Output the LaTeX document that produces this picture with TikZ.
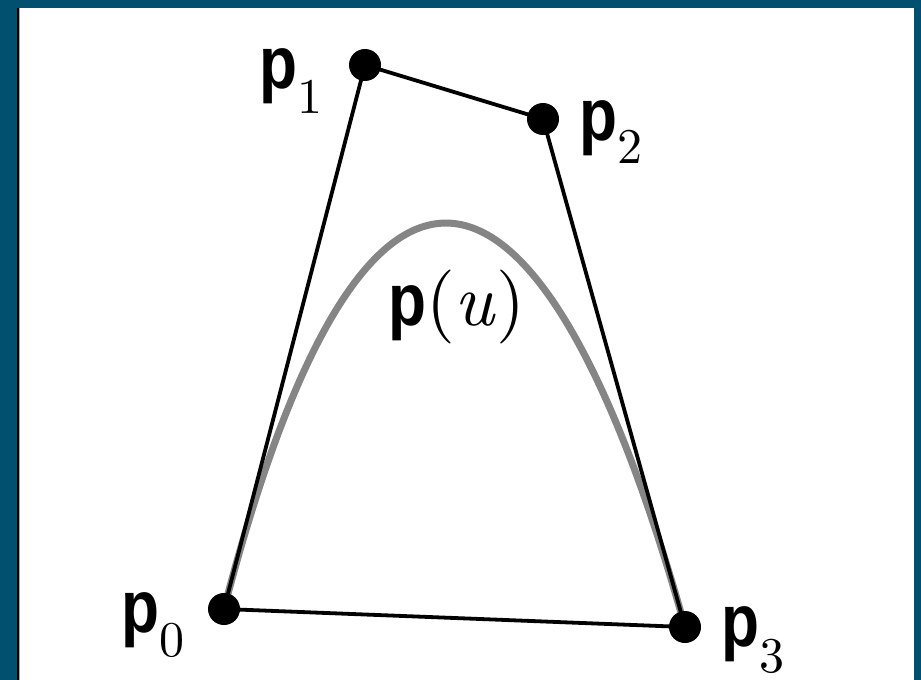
\documentclass[tikz,border=0pt]{standalone}
\usepackage{fontspec}
\usepackage{graphicx}
\newfontfamily\hv{Liberation Sans}
\newfontfamily\cmten{lmroman10-regular.otf}[ItalicFont=lmroman10-italic.otf]
\definecolor{teal0}{RGB}{2,80,112}
\definecolor{curvegray}{RGB}{133,133,133}
\newcommand{\bp}{{\hv\bfseries\fontsize{74}{74}\selectfont\scalebox{0.84}[1]{p}}}
\newcommand{\sub}[2]{\raisebox{-#2pt}{\cmten\fontsize{50}{50}\selectfont #1}}
\begin{document}
\begin{tikzpicture}[x=1pt,y=-1pt,
  ctrl/.style={circle,fill=black,inner sep=0pt,minimum size=32pt},
  poly/.style={line width=3.8pt,black},
  bez/.style={line width=7pt,curvegray},
  lbl/.style={anchor=base west,inner sep=0pt,font=\cmten\fontsize{74}{74}\selectfont}]
\fill[teal0] (0,0) rectangle (921,680);
\fill[white] (19,8) rectangle (914,680);
\fill[black] (17,8) rectangle (19,680);
\fill[black!35] (19,8) rectangle (20,680);
\useasboundingbox (0,0) rectangle (921,680);
\coordinate (c0) at (224,609);
\coordinate (c1) at (365,65);
\coordinate (c2) at (543,119);
\coordinate (c3) at (685,627);
\draw[bez] (c0) .. controls (c1) and (c2) .. (c3);
\draw[poly,line join=round] (c0) -- (c1) -- (c2) -- (c3) -- cycle;
\node[ctrl] (p0) at (c0) {};
\node[ctrl] (p1) at (c1) {};
\node[ctrl] (p2) at (c2) {};
\node[ctrl] (p3) at (c3) {};
\node[lbl] (l0) at (121,632) {\bp\sub{0}{24}};
\node[lbl] (l1) at (259,88) {\bp\sub{1}{25}};
\node[lbl] (l2) at (579,140) {\bp\sub{2}{23}};
\node[lbl] (l3) at (721,646) {\bp\sub{3}{26}};
\node[lbl] (lu) at (388,325) {\bp(\textit{u})};
\end{tikzpicture}
\end{document}
